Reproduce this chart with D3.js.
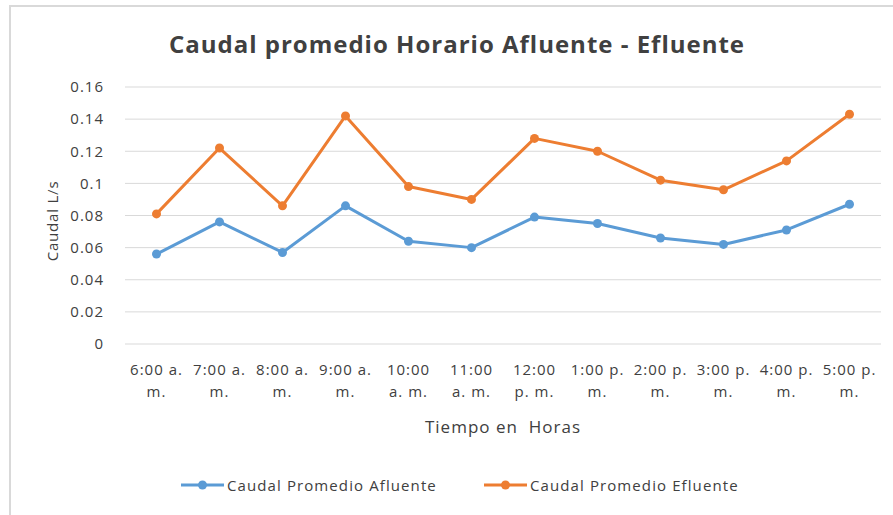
<!DOCTYPE html>
<html>
<head>
<meta charset="utf-8">
<script src="https://cdn.jsdelivr.net/npm/d3@7"></script>
<style>
  body { margin: 0; background: #fff; }
  text { font-family: "Open Sans", sans-serif; fill: #404040; }
</style>
</head>
<body>
<div id="d3"></div>
<script>
const categories = ["6:00 a. m.", "7:00 a. m.", "8:00 a. m.", "9:00 a. m.", "10:00 a. m.", "11:00 a. m.",
  "12:00 p. m.", "1:00 p. m.", "2:00 p. m.", "3:00 p. m.", "4:00 p. m.", "5:00 p. m."];
const tickLines = [["6:00 a.", "m."], ["7:00 a.", "m."], ["8:00 a.", "m."], ["9:00 a.", "m."], ["10:00", "a. m."], ["11:00", "a. m."],
  ["12:00", "p. m."], ["1:00 p.", "m."], ["2:00 p.", "m."], ["3:00 p.", "m."], ["4:00 p.", "m."], ["5:00 p.", "m."]];
const afluente = [0.056, 0.076, 0.057, 0.086, 0.064, 0.060, 0.079, 0.075, 0.066, 0.062, 0.071, 0.087];
const efluente = [0.081, 0.122, 0.086, 0.142, 0.098, 0.090, 0.128, 0.120, 0.102, 0.096, 0.114, 0.143];
const yTicks = [0, 0.02, 0.04, 0.06, 0.08, 0.1, 0.12, 0.14, 0.16];
const seriesNames = ["Caudal Promedio Afluente", "Caudal Promedio Efluente"];
const colors = ["#5B9BD5", "#ED7D31"];

const width = 893, height = 515;
const margin = { top: 87, bottom: 171, left: 125, right: 12 };

const svg = d3.select("#d3").append("svg")
  .attr("width", width).attr("height", height);

// chart frame
svg.append("rect")
  .attr("x", 10).attr("y", 6)
  .attr("width", 900).attr("height", 520)
  .attr("fill", "none").attr("stroke", "#d9d9d9").attr("stroke-width", 2);

const x = d3.scaleBand().domain(categories).range([margin.left, width - margin.right]);
const y = d3.scaleLinear().domain([0, 0.16]).range([height - margin.bottom, margin.top]);

// gridlines
svg.append("g")
  .selectAll("line")
  .data(yTicks)
  .join("line")
  .attr("x1", margin.left).attr("x2", width - margin.right)
  .attr("y1", d => y(d)).attr("y2", d => y(d))
  .attr("stroke", "#d9d9d9").attr("stroke-width", 1);

// y axis labels
const yAxis = svg.append("g")
  .attr("transform", `translate(${margin.left - 21},0)`)
  .call(d3.axisLeft(y).tickValues(yTicks).tickSize(0).tickPadding(0).tickFormat(d => d3.format("")(+d.toFixed(2))));
yAxis.select(".domain").remove();
yAxis.selectAll("text")
  .attr("fill", "#404040")
  .style("font-size", "15px")
  .style("letter-spacing", "1px")
  .style("font-family", "'Open Sans', sans-serif");

// x axis labels
const xAxis = svg.append("g")
  .attr("transform", `translate(0,${height - margin.bottom})`)
  .call(d3.axisBottom(x).tickSize(0).tickFormat(""));
xAxis.select(".domain").remove();
xAxis.selectAll(".tick").each(function (d, i) {
  const t = d3.select(this).append("text")
    .attr("text-anchor", "middle")
    .attr("fill", "#404040")
    .style("font-size", "15px")
    .style("letter-spacing", "1px");
  tickLines[i].forEach((line, j) => {
    t.append("tspan").attr("x", 0).attr("y", 31 + j * 22).text(line);
  });
});

// lines + markers
const line = d3.line().x((d, i) => x(categories[i]) + x.bandwidth() / 2).y(d => y(d));
[afluente, efluente].forEach((series, k) => {
  svg.append("path")
    .datum(series)
    .attr("d", line)
    .attr("fill", "none")
    .attr("stroke", colors[k])
    .attr("stroke-width", 3)
    .attr("stroke-linejoin", "round");
  svg.append("g")
    .selectAll("circle")
    .data(series)
    .join("circle")
    .attr("cx", (d, i) => x(categories[i]) + x.bandwidth() / 2)
    .attr("cy", d => y(d))
    .attr("r", 4.5)
    .attr("fill", colors[k]);
});

// title
svg.append("text")
  .attr("x", 457).attr("y", 53)
  .attr("text-anchor", "middle")
  .style("font-size", "24px").style("font-weight", "bold").style("letter-spacing", "1px")
  .attr("fill", "#262626")
  .text("Caudal promedio Horario Afluente - Efluente");

// axis titles
svg.append("text")
  .attr("transform", "translate(58,221) rotate(-90)")
  .attr("text-anchor", "middle")
  .style("font-size", "15px")
  .style("letter-spacing", "0.8px")
  .text("Caudal L/s");

svg.append("text")
  .attr("x", 503).attr("y", 433)
  .attr("text-anchor", "middle")
  .style("font-size", "17px")
  .style("letter-spacing", "1px")
  .style("white-space", "pre")
  .text("Tiempo en  Horas");

// legend
const legendX = [181, 484];
seriesNames.forEach((name, k) => {
  const g = svg.append("g").attr("transform", `translate(${legendX[k]},485)`);
  g.append("line").attr("x1", 0).attr("x2", 43).attr("y1", 0).attr("y2", 0)
    .attr("stroke", colors[k]).attr("stroke-width", 3);
  g.append("circle").attr("cx", 21.5).attr("cy", 0).attr("r", 4.5).attr("fill", colors[k]);
  g.append("text").attr("x", 46).attr("y", 6)
    .style("font-size", "15px").style("letter-spacing", "1.1px").text(name);
});
</script>
</body>
</html>
